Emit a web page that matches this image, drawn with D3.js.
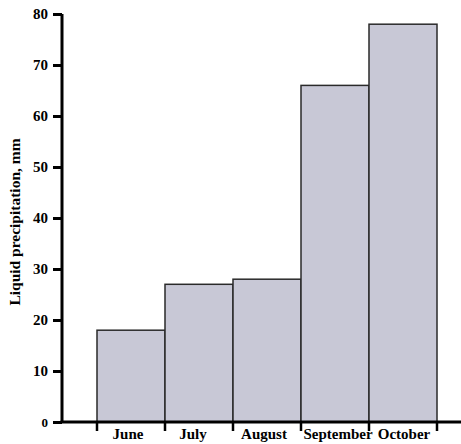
<!DOCTYPE html>
<html><head><meta charset="utf-8">
<script src="https://cdn.jsdelivr.net/npm/d3@7/dist/d3.min.js"></script>
<style>body{margin:0;background:#fff}svg{display:block}text{font-family:"Liberation Serif","Times New Roman",serif;font-weight:bold}</style>
</head><body>
<script>
const months = ["June","July","August","September","October"];
const precipitation = [18,27,28,66,78];
const yTicks = [0,10,20,30,40,50,60,70,80];

const W=461,H=444;
const x0=62, y0=422, yTop=14;
const svg=d3.select("body").append("svg").attr("width",W).attr("height",H);
const x=d3.scaleBand().domain(months).range([97,437]).padding(0);
const y=d3.scaleLinear().domain([0,80]).range([y0,yTop]);

svg.selectAll("rect.bar").data(months).enter().append("rect")
 .attr("x",d=>x(d)).attr("width",x.bandwidth())
 .attr("y",(d,i)=>y(precipitation[i])).attr("height",(d,i)=>y0-y(precipitation[i]))
 .attr("fill","#c8c8d6").attr("stroke","#2a2a2a").attr("stroke-width",1.5);

// y axis
const ya=svg.append("g").attr("transform",`translate(${x0},0)`)
 .call(d3.axisLeft(y).tickValues(yTicks).tickSize(9).tickPadding(5));
ya.select(".domain").attr("d",`M0,${yTop}V${y0}`).attr("stroke","#000").attr("stroke-width",3);
ya.selectAll(".tick line").attr("stroke","#000").attr("stroke-width",3);
ya.selectAll(".tick text").attr("font-size",d=>d===0?13:15).attr("fill","#000").style("font-family","Liberation Serif").style("font-weight","bold");

// x axis line
svg.append("line").attr("x1",x0-1.5).attr("x2",W).attr("y1",y0).attr("y2",y0).attr("stroke","#000").attr("stroke-width",3);
// x ticks at boundaries
const edges=months.map(m=>x(m)).concat([x(months[months.length-1])+x.bandwidth()]);
svg.selectAll("line.xt").data(edges).enter().append("line")
 .attr("x1",d=>d).attr("x2",d=>d).attr("y1",y0).attr("y2",y0+9).attr("stroke","#000").attr("stroke-width",2.5);
// x labels
const xa=svg.append("g").attr("transform",`translate(0,${y0})`)
 .call(d3.axisBottom(x).tickSize(0));
xa.select(".domain").remove();
xa.selectAll(".tick text").attr("font-size",15).attr("fill","#000").attr("y",17).attr("dy",0).style("font-family","Liberation Serif").style("font-weight","bold")
 .attr("dx",(d,i)=>[-3,-6,-3,3,1][i]);

svg.append("text").attr("transform",`translate(20,222) rotate(-90)`)
 .attr("text-anchor","middle").attr("font-size",15.5).attr("fill","#000")
 .text("Liquid precipitation, mm");
</script>
</body></html>
